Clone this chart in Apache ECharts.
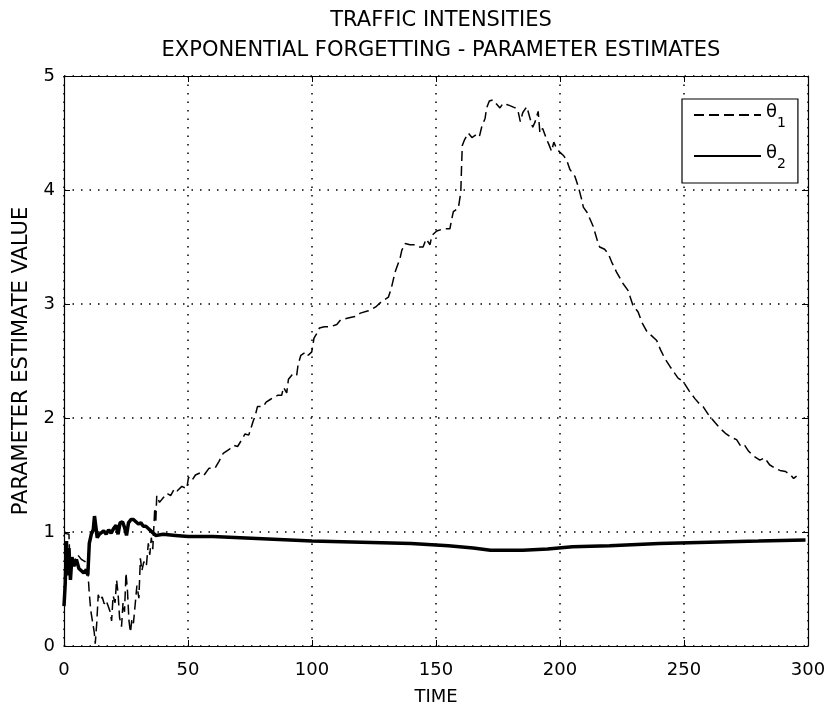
<!DOCTYPE html>
<html>
<head>
<meta charset="utf-8">
<script src="https://cdn.jsdelivr.net/npm/echarts@6/dist/echarts.min.js"></script>
<style>
  html, body { margin: 0; padding: 0; background: #fff; }
  #chart { width: 829px; height: 717px; }
</style>
</head>
<body>
<div id="chart"></div>
<script>
// Axis ticks
const xTicks = [0, 50, 100, 150, 200, 250, 300];
const yTicks = [0, 1, 2, 3, 4, 5];

// theta_1 estimate (dashed): sample times and values
const t1 = [0, 2, 2.5, 3.5, 5.5, 7, 8.5, 9.5, 10.2, 10.8, 11.6, 12.2, 12.6, 13.2, 13.8, 14.6, 15.4, 16.2, 17.0, 17.8,
  18.6, 19.2, 19.8, 20.6, 21.2, 21.8, 22.4, 23.2, 23.8, 24.4, 25.0, 25.6, 26.2, 26.8, 27.4, 28.0, 28.6, 29.4, 30.2, 30.8,
  31.4, 32.2, 33.2, 34.0, 34.6, 35.2, 35.8, 36.6, 37.0, 37.4, 38.5, 40, 41.5, 43, 44.5, 45.6, 47.5, 49.5, 50.2, 51.5,
  53, 55, 56.5, 58.5, 60.9, 62.5, 64.2, 66.9, 68.5, 70, 71.7, 73, 74.5, 76.4, 77, 78, 80.4, 81.5, 83, 84.5,
  86.3, 87.8, 88.5, 89.8, 90.5, 92, 93.8, 94.4, 95.5, 97.6, 98.5, 99.9, 100.8, 101.9, 103, 105, 107.3, 110, 111.5, 113.3,
  115, 117.3, 119.5, 122.7, 124.5, 126, 128, 130.8, 132, 133.5, 135.5, 136.2, 137.5, 139.5, 141.5, 143, 144.8, 146, 147.6, 148.3,
  150.3, 153, 155.6, 156.5, 157, 159, 160, 160.3, 160.6, 161.5, 163, 164.5, 166.5, 167.5, 168.4, 169.8, 170.4, 171.5, 173, 173.8,
  175.8, 177, 178.5, 179.8, 181.9, 183, 184, 185, 186.6, 187.9, 189, 190, 191.2, 191.9, 193, 194.5, 195.5, 196.6, 197.5, 198.7,
  200, 201.5, 202.7, 204, 205, 206, 207.5, 208.7, 209.4, 211, 212, 213.4, 215, 216, 218, 219.5, 220.8, 222.8, 225.4, 227.4,
  229.4, 231.5, 233, 235, 237, 239, 240.5, 242.3, 244.4, 246, 247.6, 249.7, 252, 254.4, 256, 257.7, 259.5, 262.5, 264.5, 267,
  269, 271.2, 273, 274.5, 276, 277.8, 280.6, 282.5, 284.5, 286.7, 288.7, 291, 293, 294.2, 295.4];
const theta1 = [0.99, 0.98, 0.66, 0.72, 0.80, 0.76, 0.74, 0.70, 0.46, 0.31, 0.30, 0.12, 0.02, 0.20, 0.45, 0.40, 0.43, 0.37, 0.40, 0.35,
  0.30, 0.22, 0.44, 0.38, 0.58, 0.46, 0.25, 0.17, 0.38, 0.30, 0.64, 0.48, 0.22, 0.12, 0.24, 0.20, 0.34, 0.53, 0.42, 0.77,
  0.66, 0.74, 0.70, 0.90, 0.80, 0.95, 0.85, 1.21, 1.08, 1.32, 1.26, 1.30, 1.34, 1.32, 1.38, 1.36, 1.40, 1.38, 1.48, 1.45,
  1.50, 1.52, 1.50, 1.56, 1.56, 1.62, 1.69, 1.73, 1.76, 1.75, 1.81, 1.86, 1.85, 1.98, 2.01, 2.10, 2.10, 2.14, 2.16, 2.18,
  2.20, 2.20, 2.27, 2.22, 2.34, 2.38, 2.37, 2.47, 2.55, 2.58, 2.55, 2.58, 2.70, 2.74, 2.79, 2.80, 2.80, 2.82, 2.86, 2.87,
  2.88, 2.89, 2.92, 2.94, 2.96, 2.98, 3.02, 3.06, 3.14, 3.28, 3.40, 3.47, 3.53, 3.52, 3.52, 3.50, 3.50, 3.57, 3.52, 3.60,
  3.64, 3.66, 3.66, 3.76, 3.81, 3.84, 3.98, 4.20, 4.39, 4.44, 4.50, 4.46, 4.49, 4.47, 4.55, 4.63, 4.72, 4.78, 4.79, 4.77,
  4.72, 4.76, 4.75, 4.74, 4.72, 4.70, 4.60, 4.68, 4.73, 4.63, 4.55, 4.60, 4.69, 4.50, 4.54, 4.45, 4.40, 4.34, 4.42, 4.36,
  4.33, 4.30, 4.26, 4.18, 4.15, 4.12, 4.02, 3.92, 3.85, 3.80, 3.75, 3.68, 3.56, 3.50, 3.48, 3.44, 3.37, 3.28, 3.18, 3.12,
  2.99, 2.93, 2.84, 2.76, 2.72, 2.68, 2.60, 2.52, 2.45, 2.40, 2.35, 2.32, 2.24, 2.17, 2.13, 2.10, 2.04, 1.96, 1.91, 1.86,
  1.83, 1.81, 1.75, 1.76, 1.71, 1.67, 1.63, 1.65, 1.59, 1.56, 1.54, 1.53, 1.50, 1.47, 1.49];

// theta_2 estimate (solid): sample times and values
const t2 = [0, 0.5, 1.0, 1.5, 2.0, 2.6, 3.2, 4.0, 5.0, 6.0, 7.0, 8.0, 9.0, 9.6, 10.2, 11.0, 11.8, 12.3, 12.9, 13.4,
  14.2, 15.0, 16.0, 17.0, 18.0, 19.0, 20.0, 21.0, 21.8, 22.6, 23.6, 24.4, 25.2, 26.0, 27.0, 28.0, 29.0, 30.0, 31.0, 32.0,
  33.0, 34.0, 35.0, 36.0, 37, 40, 45, 50, 60, 80, 100, 120, 140, 155, 165, 172, 185, 195, 205, 220,
  240, 260, 280, 299];
const theta2 = [0.35, 0.55, 0.92, 0.62, 0.86, 0.58, 0.78, 0.70, 0.76, 0.68, 0.66, 0.64, 0.67, 0.62, 0.90, 0.98, 1.02, 1.14, 1.13, 0.95,
  0.98, 0.97, 1.01, 0.98, 1.02, 0.99, 1.03, 1.06, 0.98, 1.08, 1.09, 1.04, 0.97, 1.08, 1.11, 1.11, 1.09, 1.07, 1.08, 1.05,
  1.05, 1.03, 1.01, 0.99, 0.97, 0.98, 0.97, 0.96, 0.96, 0.94, 0.92, 0.91, 0.90, 0.88, 0.86, 0.84, 0.84, 0.85, 0.87, 0.88,
  0.90, 0.91, 0.92, 0.93];

const pairs = (xs, ys) => xs.map((x, i) => [x, ys[i]]);

const FONT = 'DejaVu Sans';
const FS = 18;      // tick labels, legend, x-axis name
const FS_TXT = 21;  // title and y-axis name
const chart = echarts.init(document.getElementById('chart'), null, { renderer: 'canvas' });

const dotted = { color: '#000', width: 1.5, type: [1.5, 7] };
const axisBase = {
  axisLine: { show: true, onZero: false, lineStyle: { color: '#000', width: 1.2 } },
  axisTick: { show: true, inside: true, length: 6, lineStyle: { color: '#000' } }
};

chart.setOption({
  backgroundColor: '#fff',
  animation: false,
  title: {
    text: 'TRAFFIC INTENSITIES\nEXPONENTIAL FORGETTING - PARAMETER ESTIMATES',
    left: 436, top: 1, textAlign: 'center',
    textStyle: { fontFamily: FONT, fontSize: FS_TXT, fontWeight: 'normal', color: '#000', lineHeight: 30 }
  },
  grid: { left: 64, right: 21, top: 76, bottom: 71 },
  legend: {
    orient: 'vertical',
    left: 682, top: 99,
    padding: [1, 12, 12, 11],
    itemGap: 11,
    itemWidth: 67,
    itemHeight: 14,
    borderColor: '#000', borderWidth: 1.2,
    backgroundColor: '#fff',
    itemStyle: { opacity: 0 },
    data: ['theta1', 'theta2'],
    formatter: name => name === 'theta1' ? '{a|θ}{s|1}' : '{a|θ}{s|2}',
    textStyle: {
      color: '#000', fontFamily: FONT,
      rich: {
        a: { fontSize: FS, fontFamily: FONT, color: '#000', lineHeight: 22, padding: [2, 0, 8, 0] },
        s: { fontSize: 14, fontFamily: FONT, color: '#000', lineHeight: 16, padding: [16, 0, 0, 0] }
      }
    }
  },
  xAxis: [
    Object.assign({}, axisBase, {
      type: 'value', min: xTicks[0], max: xTicks[xTicks.length - 1], interval: 50,
      name: 'TIME', nameLocation: 'middle', nameGap: 42,
      nameTextStyle: { fontFamily: FONT, fontSize: FS, color: '#000' },
      axisLabel: { color: '#000', fontFamily: FONT, fontSize: FS, margin: 15 },
      splitLine: { show: true, lineStyle: dotted }
    }),
    Object.assign({}, axisBase, {
      type: 'value', position: 'top', min: 0, max: 300, interval: 50,
      axisLabel: { show: false }, splitLine: { show: false }
    })
  ],
  yAxis: [
    Object.assign({}, axisBase, {
      type: 'value', min: yTicks[0], max: yTicks[yTicks.length - 1], interval: 1,
      name: 'PARAMETER ESTIMATE VALUE', nameLocation: 'middle', nameGap: 32,
      nameTextStyle: { fontFamily: FONT, fontSize: FS_TXT, color: '#000' },
      axisLabel: { color: '#000', fontFamily: FONT, fontSize: FS, margin: 9 },
      splitLine: { show: true, lineStyle: dotted }
    }),
    Object.assign({}, axisBase, {
      type: 'value', position: 'right', min: 0, max: 5, interval: 1,
      axisLabel: { show: false }, splitLine: { show: false }
    })
  ],
  series: [
    {
      name: 'theta1', type: 'line', data: pairs(t1, theta1),
      showSymbol: false, symbol: 'none',
      lineStyle: { color: '#000', width: 1.5, type: [10, 5] },
      itemStyle: { color: '#000' }, z: 3
    },
    {
      name: 'theta2', type: 'line', data: pairs(t2, theta2),
      showSymbol: false, symbol: 'none',
      lineStyle: { color: '#000', width: 3.5 },
      itemStyle: { color: '#000' }, z: 4
    }
  ]
});
</script>
</body>
</html>
